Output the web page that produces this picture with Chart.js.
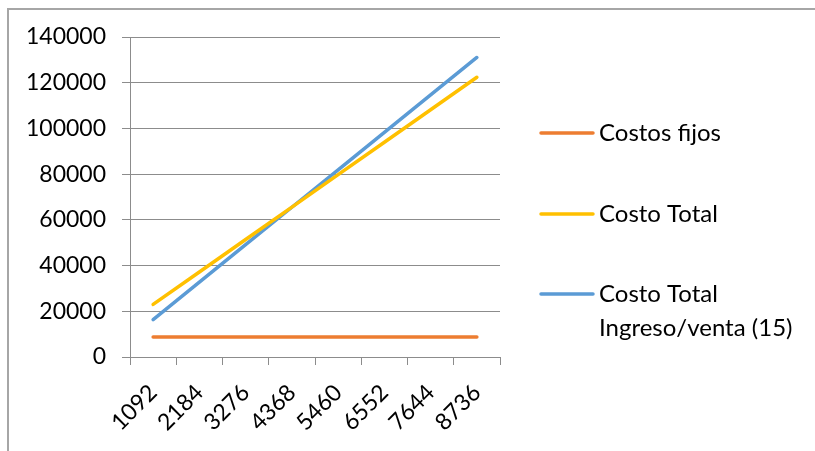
<!DOCTYPE html>
<html>
<head>
<meta charset="utf-8">
<script src="https://cdn.jsdelivr.net/npm/chart.js@4"></script>
<style>
  html, body { margin: 0; padding: 0; background: #fff; }
  #wrap { position: relative; width: 815px; height: 451px; }
  #frame { position: absolute; left: 7px; top: 8px; right: 0; bottom: 0;
           border-left: 2px solid #a6a6a6; border-top: 2px solid #a6a6a6; pointer-events: none; }
</style>
</head>
<body>
<div id="wrap">
  <canvas id="chart" width="815" height="451"></canvas>
  <div id="frame"></div>
</div>
<script>
const units = ['1092', '2184', '3276', '4368', '5460', '6552', '7644', '8736'];
const costosFijos = [8800, 8800, 8800, 8800, 8800, 8800, 8800, 8800];
const costoTotal = [22996, 37192, 51388, 65584, 79780, 93976, 108172, 122368];
const ingresoVenta = [16380, 32760, 49140, 65520, 81900, 98280, 114660, 131040];
const seriesNames = ['Costos fijos', 'Costo Total', 'Costo Total Ingreso/venta (15)'];
const seriesColors = ['#ED7D31', '#FFC000', '#5B9BD5'];

const FONT = 'Lato, "Open Sans", sans-serif';
const gridColor = '#8c8c8c';

// legend drawn by hand so the last label can wrap onto two lines
const sideLegend = {
    id: 'sideLegend',
    afterDraw(chart) {
        const ctx = chart.ctx;
        const rows = [133, 214, 294];
        ctx.save();
        ctx.font = '24px ' + FONT;
        ctx.textBaseline = 'middle';
        ctx.fillStyle = '#000';
        chart.data.datasets.forEach((ds, i) => {
            const y = rows[i];
            ctx.strokeStyle = ds.borderColor;
            ctx.lineWidth = 3.5;
            ctx.lineCap = 'round';
            ctx.beginPath();
            ctx.moveTo(541, y);
            ctx.lineTo(593, y);
            ctx.stroke();

            // word wrap
            const words = ds.label.split(' ');
            let lines = [];
            let line = '';
            words.forEach(w => {
                const test = line ? line + ' ' + w : w;
                if (ctx.measureText(test).width > 205 && line) {
                    lines.push(line);
                    line = w;
                } else {
                    line = test;
                }
            });
            lines.push(line);
            lines.forEach((t, j) => ctx.fillText(t, 599, y + j * 34));
        });
        ctx.restore();
    }
};

const ctx = document.getElementById('chart').getContext('2d');

new Chart(ctx, {
    type: 'line',
    data: {
        labels: units,
        datasets: [
            { label: seriesNames[0], data: costosFijos, borderColor: seriesColors[0] },
            { label: seriesNames[1], data: costoTotal, borderColor: seriesColors[1] },
            { label: seriesNames[2], data: ingresoVenta, borderColor: seriesColors[2] }
        ]
    },
    options: {
        responsive: false,
        animation: false,
        layout: {
            padding: { left: 0, right: 315, top: 37, bottom: 0 }
        },
        elements: {
            point: { radius: 0 },
            line: { borderWidth: 3.5, borderCapStyle: 'round', tension: 0 }
        },
        plugins: {
            legend: { display: false },
            tooltip: { enabled: false }
        },
        scales: {
            x: {
                offset: true,
                grid: {
                    offset: true,
                    drawOnChartArea: false,
                    drawTicks: true,
                    tickLength: 8,
                    color: gridColor
                },
                border: { color: gridColor, width: 1 },
                ticks: {
                    color: '#000',
                    font: { family: FONT, size: 23 },
                    minRotation: 45,
                    maxRotation: 45,
                    padding: 14
                },
                afterFit(scale) { scale.height = 94; }
            },
            y: {
                min: 0,
                max: 140000,
                ticks: {
                    stepSize: 20000,
                    color: '#000',
                    font: { family: FONT, size: 23 },
                    padding: 16,
                    callback: v => String(v)
                },
                grid: {
                    color: gridColor,
                    tickLength: 8
                },
                border: { color: gridColor, width: 1 },
                afterFit(scale) { scale.width = 130; }
            }
        }
    },
    plugins: [sideLegend]
});
</script>
</body>
</html>
